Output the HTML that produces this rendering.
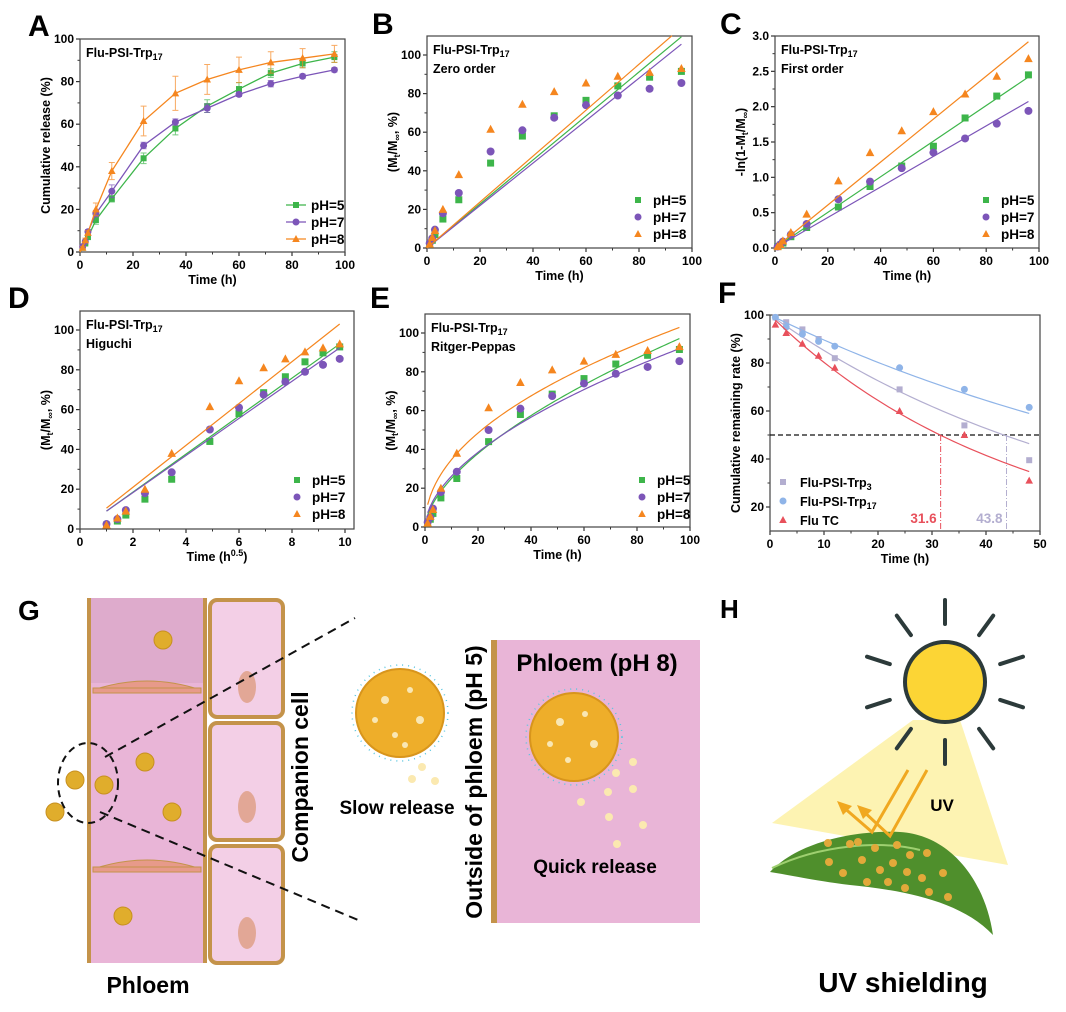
<!DOCTYPE html>
<html><head><meta charset="utf-8"><style>
body{margin:0;background:#fff}
svg{display:block;font-family:"Liberation Sans",Arial,sans-serif}
</style></head><body>
<svg id="fig" width="1066" height="1012" viewBox="0 0 1066 1012" xmlns="http://www.w3.org/2000/svg">
<g id="charts"></g>
<g id="panelG">
 <text x="18" y="620" font-size="28" font-weight="bold">G</text>
 <rect x="89" y="598" width="116" height="365" fill="#e9b5d7"/>
 <rect x="89" y="598" width="116" height="85" fill="#deabcc"/>
 <line x1="89" y1="598" x2="89" y2="963" stroke="#c4934a" stroke-width="4"/>
 <line x1="205" y1="598" x2="205" y2="963" stroke="#c4934a" stroke-width="4"/>
 <path d="M93,690 Q147,672 201,690 Z" fill="#e79a8a" stroke="#c4934a"/>
 <rect x="93" y="688" width="108" height="5" fill="#e79a8a" stroke="#c4934a"/>
 <path d="M93,869 Q147,851 201,869 Z" fill="#e79a8a" stroke="#c4934a"/>
 <rect x="93" y="867" width="108" height="5" fill="#e79a8a" stroke="#c4934a"/>
 <rect x="210" y="600" width="73" height="117" rx="7" fill="#f3cfe6" stroke="#c4934a" stroke-width="4"/>
 <rect x="210" y="723" width="73" height="117" rx="7" fill="#f3cfe6" stroke="#c4934a" stroke-width="4"/>
 <rect x="210" y="846" width="73" height="117" rx="7" fill="#f3cfe6" stroke="#c4934a" stroke-width="4"/>
 <ellipse cx="247" cy="687" rx="9" ry="16" fill="#e2a796"/>
 <ellipse cx="247" cy="807" rx="9" ry="16" fill="#e2a796"/>
 <ellipse cx="247" cy="933" rx="9" ry="16" fill="#e2a796"/>
 <g fill="#e0ad2c" stroke="#c79020">
  <circle cx="163" cy="640" r="9"/><circle cx="145" cy="762" r="9"/><circle cx="75" cy="780" r="9"/>
  <circle cx="104" cy="785" r="9"/><circle cx="55" cy="812" r="9"/><circle cx="172" cy="812" r="9"/><circle cx="123" cy="916" r="9"/>
 </g>
 <ellipse cx="88" cy="783" rx="30" ry="40" fill="none" stroke="#111" stroke-width="2" stroke-dasharray="7,5"/>
 <line x1="105" y1="757" x2="355" y2="618" stroke="#111" stroke-width="2" stroke-dasharray="9,6"/>
 <line x1="100" y1="812" x2="358" y2="920" stroke="#111" stroke-width="2" stroke-dasharray="9,6"/>
 <text transform="translate(308,777) rotate(-90)" text-anchor="middle" font-size="23" font-weight="bold">Companion cell</text>
 <text x="148" y="993" text-anchor="middle" font-size="23" font-weight="bold">Phloem</text>
 <circle cx="400" cy="713" r="44" fill="#eeae2a" stroke="#d8951c" stroke-width="2"/>
 <circle cx="400" cy="713" r="48" fill="none" stroke="#5bc6e0" stroke-width="1.5" stroke-dasharray="1,5"/>
 <g fill="#fbeec4" opacity="0.9"><circle cx="385" cy="700" r="4"/><circle cx="410" cy="690" r="3"/><circle cx="420" cy="720" r="4"/><circle cx="395" cy="735" r="3"/><circle cx="375" cy="720" r="3"/><circle cx="405" cy="745" r="3"/></g>
 <g fill="#fbe9b0"><circle cx="422" cy="767" r="4"/><circle cx="412" cy="779" r="4"/><circle cx="435" cy="781" r="4"/></g>
 <text x="397" y="814" text-anchor="middle" font-size="19" font-weight="bold">Slow release</text>
 <rect x="491" y="640" width="6" height="283" fill="#c4934a"/>
 <rect x="497" y="640" width="203" height="283" fill="#e9b5d7"/>
 <text transform="translate(482,782) rotate(-90)" text-anchor="middle" font-size="23" font-weight="bold">Outside of phloem (pH 5)</text>
 <text x="597" y="671" text-anchor="middle" font-size="24" font-weight="bold">Phloem (pH 8)</text>
 <circle cx="574" cy="737" r="44" fill="#eeae2a" stroke="#d8951c" stroke-width="2"/>
 <circle cx="574" cy="737" r="48" fill="none" stroke="#5bc6e0" stroke-width="1.5" stroke-dasharray="1,5"/>
 <g fill="#fbeec4" opacity="0.9"><circle cx="560" cy="722" r="4"/><circle cx="585" cy="714" r="3"/><circle cx="594" cy="744" r="4"/><circle cx="568" cy="760" r="3"/><circle cx="550" cy="744" r="3"/></g>
 <g fill="#fbe9b0"><circle cx="633" cy="762" r="4"/><circle cx="616" cy="773" r="4"/><circle cx="608" cy="792" r="4"/><circle cx="633" cy="789" r="4"/><circle cx="581" cy="802" r="4"/><circle cx="609" cy="817" r="4"/><circle cx="643" cy="825" r="4"/><circle cx="617" cy="844" r="4"/></g>
 <text x="595" y="873" text-anchor="middle" font-size="19" font-weight="bold">Quick release</text>
</g>
<g id="panelH">
 <text x="720" y="618" font-size="26" font-weight="bold">H</text>
 <polygon points="913,720 960,720 1008,865 772,823" fill="#fdf3b2"/>
 <g id="rays" stroke="#2c3a3a" stroke-width="4" stroke-linecap="round"></g>
 <circle cx="945" cy="682" r="40" fill="#fcd535" stroke="#2c3a3a" stroke-width="4"/>
 <path d="M770,872 C800,840 860,830 900,832 C950,835 985,880 993,935 C960,900 900,890 850,885 C810,880 790,875 770,872 Z" fill="#4f8f2c"/>
 <path d="M772,868 C820,845 880,840 920,850" stroke="#9fd070" stroke-width="2" fill="none"/>
 <g fill="#e2a93a">
  <circle cx="828" cy="843" r="4"/><circle cx="850" cy="844" r="4"/><circle cx="875" cy="848" r="4"/><circle cx="897" cy="845" r="4"/><circle cx="910" cy="855" r="4"/><circle cx="927" cy="853" r="4"/><circle cx="829" cy="862" r="4"/><circle cx="862" cy="860" r="4"/><circle cx="880" cy="870" r="4"/><circle cx="893" cy="863" r="4"/><circle cx="907" cy="872" r="4"/><circle cx="943" cy="873" r="4"/><circle cx="843" cy="873" r="4"/><circle cx="867" cy="882" r="4"/><circle cx="888" cy="882" r="4"/><circle cx="922" cy="878" r="4"/><circle cx="929" cy="892" r="4"/><circle cx="948" cy="897" r="4"/><circle cx="905" cy="888" r="4"/><circle cx="858" cy="842" r="4"/>
 </g>
 <g stroke="#f0a820" stroke-width="3" fill="none">
  <polyline points="908,770 872,832 842,806"/><polyline points="927,770 890,836 862,810"/>
 </g>
 <polygon points="837,801 852,806 843,815" fill="#f0a820"/><polygon points="857,805 872,810 863,819" fill="#f0a820"/>
 <text x="942" y="811" text-anchor="middle" font-size="17" font-weight="bold">UV</text>
 <text x="903" y="992" text-anchor="middle" font-size="28" font-weight="bold">UV shielding</text>
</g>
</svg>
<script>
const timeH = [1,2,3,6,12,24,36,48,60,72,84,96];
const sqrtTime = [1,1.41,1.73,2.45,3.46,4.9,6,6.93,7.75,8.49,9.17,9.8];
const rel5 = [2,4,7,15,25,44,58,68.5,76.5,84,88.5,91.5];
const rel7 = [2.5,5,9.5,18,28.5,50,61,67.5,74,79,82.5,85.5];
const rel8 = [2,5.5,9,20,38,61.5,74.5,81,85.5,89,91,93];
const err5 = [0.5,0.5,1,2,1.5,2.5,3,3,3,2,2,2.5];
const err7 = [0.5,0.5,1,1.5,3,1.5,1.5,2,1,1.5,1,1];
const err8 = [0.5,1,1,3,4,7,8,7,6,5,4.5,4];
const fo5 = [0.02,0.04,0.07,0.16,0.29,0.58,0.87,1.16,1.44,1.84,2.15,2.45];
const fo7 = [0.02,0.05,0.09,0.19,0.34,0.69,0.94,1.13,1.35,1.55,1.76,1.94];
const fo8 = [0.02,0.05,0.1,0.22,0.48,0.95,1.35,1.66,1.93,2.18,2.43,2.68];
const zeroSlope = [1.14,1.10,1.19];
const firstSlope = [0.0252,0.0216,0.0304];
const higStart = [9,9,10.5];
const higEnd = [93,91,103];
const rpK = [6.28,7.3,11.5];
const rpN = [0.6,0.555,0.48];
const fTime = [1,3,6,9,12,24,36,48];
const fTrp3 = [99,97,94,90,82,69,54,39.5];
const fTrp17 = [99,95,92,89,87,78,69,61.5];
const fTC = [96,92.5,88,83,78,60,50,31];
const fK = [0.016,0.011,0.022];
const halfLife = [31.6,43.8];
const axisTicks100 = [0,20,40,60,80,100];
const axisTicksC = [0,0.5,1,1.5,2,2.5,3];
const axisTicksD = [0,2,4,6,8,10];
const axisTicksF = [20,40,60,80,100];
const axisTicksFx = [0,10,20,30,40,50];

const NS='http://www.w3.org/2000/svg';
const root=document.getElementById('charts');
function el(tag,attrs,parent){const e=document.createElementNS(NS,tag);for(const k in attrs)e.setAttribute(k,attrs[k]);(parent||root).appendChild(e);return e;}
const COL=['#3db54a','#7c55b8','#f5861f'];
const FCOL=['#b3aed0','#8fb4e8','#e8505b'];

function marker(g,type,x,y,c,s){
  s=s||3.5;let m;
  if(type==='sq') m=el('rect',{x:x-s,y:y-s,width:2*s,height:2*s,fill:c},g);
  else if(type==='ci') m=el('circle',{cx:x,cy:y,r:s+0.5,fill:c},g);
  else m=el('polygon',{points:`${x},${y-s-1} ${x+s+0.8},${y+s} ${x-s-0.8},${y+s}`,fill:c},g);
  
  
  return m;
}
const MT=['sq','ci','tr'];

function makeAxes(p){
  const g=el('g',{});
  
  
  const sx=v=>p.x0+(v-p.xmin)/(p.xmax-p.xmin)*(p.x1-p.x0);
  const sy=v=>p.y0-(v-p.ymin)/(p.ymax-p.ymin)*(p.y0-p.y1);
  p.xticks.forEach(t=>{const x=sx(t);el('line',{x1:x,y1:p.y0,x2:x,y2:p.y0+4,stroke:'#333','stroke-width':1.2},g);
    const tx=el('text',{x:x,y:p.y0+17,'text-anchor':'middle','font-size':12,'font-weight':'bold'},g);tx.textContent=t;
    });
  for(let i=0;i<p.xticks.length-1;i++){const x=sx((p.xticks[i]+p.xticks[i+1])/2);el('line',{x1:x,y1:p.y0,x2:x,y2:p.y0+2.5,stroke:'#333'},g);}
  p.yticks.forEach(t=>{const y=sy(t);el('line',{x1:p.x0,y1:y,x2:p.x0-4,y2:y,stroke:'#333','stroke-width':1.2},g);
    const tx=el('text',{x:p.x0-6,y:y+4,'text-anchor':'end','font-size':12,'font-weight':'bold'},g);tx.textContent=p.yfmt?p.yfmt(t):t;
    });
  for(let i=0;i<p.yticks.length-1;i++){const y=sy((p.yticks[i]+p.yticks[i+1])/2);el('line',{x1:p.x0,y1:y,x2:p.x0-2.5,y2:y,stroke:'#333'},g);}
  const fr=el('rect',{x:p.x0,y:p.top,width:p.x1r-p.x0,height:p.y0-p.top,fill:'none',stroke:'#444','stroke-width':1.2},g);
  
  const xl=el('text',{x:(p.x0+p.x1r)/2,y:p.y0+32,'text-anchor':'middle','font-size':12.5,'font-weight':'bold'},g);
  xl.innerHTML=p.xlabel;
  const yl=el('text',{transform:`translate(${p.x0-30},${(p.top+p.y0)/2}) rotate(-90)`,'text-anchor':'middle','font-size':12.5,'font-weight':'bold'},g);
  yl.innerHTML=p.ylabel;
  const L=el('text',{x:p.lx,y:p.ly,'font-size':30,'font-weight':'bold'},g);L.textContent=p.letter;
  
  if(p.title){p.title.forEach((t,i)=>{const tt=el('text',{x:p.x0+6,y:p.top+18+i*19,'font-size':12.5,'font-weight':'bold'},g);tt.innerHTML=t;
    });}
  return {g,sx,sy};
}
const TRP='Flu-PSI-Trp<tspan font-size="9" dy="3">17</tspan>';
const MLAB='(M<tspan font-size="9" dy="3">t</tspan><tspan dy="-3">/M</tspan><tspan font-size="9" dy="3">∞</tspan><tspan dy="-3">, %)</tspan>';
function legend(g,x,y,withLine){
  ['pH=5','pH=7','pH=8'].forEach((s,i)=>{const yy=y+i*17;
    if(withLine)el('line',{x1:x-10,y1:yy,x2:x+10,y2:yy,stroke:COL[i],'stroke-width':1.2},g);
    marker(g,MT[i],x,yy,COL[i],3);
    const t=el('text',{x:x+15,y:yy+5,'font-size':13.5,'font-weight':'bold'},g);t.textContent=s;
    });
}
function poly(g,pts,c,w,name){const p=el('polyline',{points:pts.map(q=>q.join(',')).join(' '),fill:'none',stroke:c,'stroke-width':w||1.2},g);
  return p;}
const REL=[rel5,rel7,rel8], ERR=[err5,err7,err8], FO=[fo5,fo7,fo8];

(function(){const A=makeAxes({name:'panel-a-chart',letter:'A',lx:28,ly:36,x0:80,x1:345,x1r:345,xmin:0,xmax:100,y0:252,y1:39,top:39,ymin:0,ymax:100,
  xticks:[0,20,40,60,80,100],yticks:axisTicks100,xlabel:'Time (h)',ylabel:'Cumulative release (%)',title:[TRP]});
  [0,1,2].forEach(s=>{const g=A.g;
    REL[s].forEach((v,i)=>{const x=A.sx(timeH[i]);const e=el('path',{d:`M${x},${A.sy(v-ERR[s][i])}V${A.sy(v+ERR[s][i])}M${x-3},${A.sy(v+ERR[s][i])}h6M${x-3},${A.sy(v-ERR[s][i])}h6`,stroke:COL[s],'stroke-width':1,opacity:0.7,fill:'none'},g);
      });
    poly(g,[[A.sx(0),A.sy(0)]].concat(REL[s].map((v,i)=>[A.sx(timeH[i]),A.sy(v)])),COL[s],1.3,'series-line');
    REL[s].forEach((v,i)=>marker(g,MT[s],A.sx(timeH[i]),A.sy(v),COL[s],3));});
  legend(A.g,296,205,true);})();
(function(){const B=makeAxes({name:'panel-b-chart',letter:'B',lx:372,ly:34,x0:427,x1:692,x1r:692,xmin:0,xmax:100,y0:248,y1:55,top:36,ymin:0,ymax:100,
  xticks:[0,20,40,60,80,100],yticks:axisTicks100,xlabel:'Time (h)',ylabel:MLAB,title:[TRP,'Zero order']});
  [0,1,2].forEach(s=>{const tEnd=Math.min(96,110/zeroSlope[s]);
    poly(B.g,[[B.sx(0),B.sy(0)],[B.sx(tEnd),B.sy(zeroSlope[s]*tEnd)]],COL[s]);
    REL[s].forEach((v,i)=>marker(B.g,MT[s],B.sx(timeH[i]),B.sy(v),COL[s],3.5));});
  legend(B.g,638,200,false);})();
(function(){const C=makeAxes({name:'panel-c-chart',letter:'C',lx:720,ly:34,x0:775,x1:1039,x1r:1039,xmin:0,xmax:100,y0:248,y1:36,top:36,ymin:0,ymax:3,
  xticks:[0,20,40,60,80,100],yticks:axisTicksC,yfmt:v=>v.toFixed(1),xlabel:'Time (h)',ylabel:'-ln(1-M<tspan font-size="9" dy="3">t</tspan><tspan dy="-3">/M</tspan><tspan font-size="9" dy="3">∞</tspan><tspan dy="-3">)</tspan>',title:[TRP,'First order']});
  [0,1,2].forEach(s=>{poly(C.g,[[C.sx(0),C.sy(0)],[C.sx(96),C.sy(firstSlope[s]*96)]],COL[s]);
    FO[s].forEach((v,i)=>marker(C.g,MT[s],C.sx(timeH[i]),C.sy(v),COL[s],3.5));});
  legend(C.g,986,200,false);})();
(function(){const D=makeAxes({name:'panel-d-chart',letter:'D',lx:8,ly:308,x0:80,x1:345,x1r:354,xmin:0,xmax:10,y0:529,y1:330,top:311,ymin:0,ymax:100,
  xticks:axisTicksD,yticks:axisTicks100,xlabel:'Time (h<tspan font-size="9" dy="-5">0.5</tspan><tspan dy="5">)</tspan>',ylabel:MLAB,title:[TRP,'Higuchi']});
  [0,1,2].forEach(s=>{poly(D.g,[[D.sx(1),D.sy(higStart[s])],[D.sx(9.8),D.sy(higEnd[s])]],COL[s]);
    REL[s].forEach((v,i)=>marker(D.g,MT[s],D.sx(sqrtTime[i]),D.sy(v),COL[s],3.5));});
  legend(D.g,297,480,false);})();
(function(){const E=makeAxes({name:'panel-e-chart',letter:'E',lx:370,ly:308,x0:425,x1:690,x1r:690,xmin:0,xmax:100,y0:527,y1:333,top:314,ymin:0,ymax:100,
  xticks:[0,20,40,60,80,100],yticks:axisTicks100,xlabel:'Time (h)',ylabel:MLAB,title:[TRP,'Ritger-Peppas']});
  [0,1,2].forEach(s=>{const pts=[];for(let t=1;t<=96;t+=1)pts.push([E.sx(t),E.sy(rpK[s]*Math.pow(t,rpN[s]))]);
    poly(E.g,pts,COL[s]);
    REL[s].forEach((v,i)=>marker(E.g,MT[s],E.sx(timeH[i]),E.sy(v),COL[s],3.5));});
  legend(E.g,642,480,false);})();
(function(){const F=makeAxes({name:'panel-f-chart',letter:'F',lx:718,ly:303,x0:770,x1:1040,x1r:1040,xmin:0,xmax:50,y0:531,y1:315,top:315,ymin:10,ymax:100,
  xticks:axisTicksFx,yticks:axisTicksF,xlabel:'Time (h)',ylabel:'Cumulative remaining rate (%)'});
  const DS=[fTrp3,fTrp17,fTC];
  el('line',{x1:F.sx(0),y1:F.sy(50),x2:F.sx(50),y2:F.sy(50),stroke:'#111','stroke-dasharray':'5,3','stroke-width':1.2},F.g);
  [[halfLife[0],FCOL[2]],[halfLife[1],FCOL[0]]].forEach(h=>{const l=el('line',{x1:F.sx(h[0]),y1:F.sy(50),x2:F.sx(h[0]),y2:F.sy(10),stroke:h[1],'stroke-dasharray':'6,2,1,2','stroke-width':1},F.g);
    
    const t=el('text',{x:F.sx(h[0])-4,y:F.sy(15)+4,'text-anchor':'end','font-size':13.5,'font-weight':'bold',fill:h[1]},F.g);t.textContent=h[0].toFixed(1);
    });
  [0,1,2].forEach(s=>{const pts=[];for(let t=1;t<=48;t+=1)pts.push([F.sx(t),F.sy(100*Math.exp(-fK[s]*t))]);
    poly(F.g,pts,FCOL[s]);
    DS[s].forEach((v,i)=>marker(F.g,MT[s],F.sx(fTime[i]),F.sy(v),FCOL[s],3));});
  ['Flu-PSI-Trp<tspan font-size="9" dy="3">3</tspan>',TRP,'Flu TC'].forEach((s,i)=>{const y=482+i*19;marker(F.g,MT[i],783,y,FCOL[i],3);
    const t=el('text',{x:800,y:y+5,'font-size':12.5,'font-weight':'bold'},F.g);t.innerHTML=s;
    });})();
(function(){const g=document.getElementById('rays');for(let i=0;i<10;i++){const a=(90+i*36)*Math.PI/180;
  const r=el('line',{x1:945+58*Math.cos(a),y1:682-58*Math.sin(a),x2:945+82*Math.cos(a),y2:682-82*Math.sin(a)},g);
  }})();
</script>
</body></html>
